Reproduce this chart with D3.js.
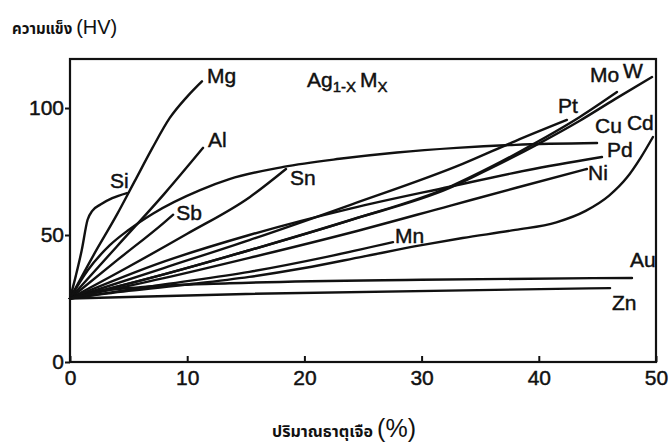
<!DOCTYPE html>
<html>
<head>
<meta charset="utf-8">
<script src="https://cdn.jsdelivr.net/npm/d3@7"></script>
<style>
  html, body { margin: 0; padding: 0; background: #fff; }
  svg { display: block; }
  .lbl { font-family: "Liberation Sans", Arial, sans-serif; font-size: 21px; fill: #111; stroke: #111; stroke-width: 0.45px; }
  .tick text { font-family: "Liberation Sans", Arial, sans-serif; font-size: 21px; fill: #111; stroke: #111; stroke-width: 0.45px; }
  .thai { font-family: "Noto Sans Thai", "Noto Sans", sans-serif; fill: #111; }
</style>
</head>
<body>
<script>
// Hardness (HV) of Ag(1-x)M(x) alloys against solute content (%)
const xTicks = [0, 10, 20, 30, 40, 50];
const yTicks = [0, 50, 100];
const metals = ["Si", "Mg", "Al", "Sb", "Sn", "Mn", "Au", "Zn", "Pt", "Mo", "W", "Cu", "Cd", "Pd", "Ni"];

const ptsSi = [[0,25],[0.5,34],[1.0,44],[1.5,56],[1.9,59.5],[2.6,62],[3.6,64.5],[4.86,66.5]];
const ptsMg = [[0,25],[2,42],[4,58],[5.5,71],[7,84],[8.5,96],[10,104.5],[11.26,110.5]];
const ptsAl = [[0,25],[4,45.5],[8.1,66.5],[11.35,84.3]];
const ptsSb = [[0,25],[4,40],[8,54.8],[8.8,58]];
const ptsSn = [[0,25],[5,37.5],[10,50.5],[15.36,65],[18.43,76]];
const ptsMn = [[0,25],[8,30.5],[15.3,35.5],[22,41.5],[27.56,47.2]];
const ptsAu = [[0,25],[2,27.5],[6,29.5],[13.6,31],[30,32.4],[47.95,33.1]];
const ptsZn = [[0,25],[15,26.8],[46.08,29.1]];
const ptsPt = [[0,25],[8,37],[15.3,48],[24,62],[33.5,78],[38,87],[42.4,95.3]];
const ptsMo = [[0,25],[8,34.5],[15.3,44],[24,56],[32.4,69],[36,77],[40,87],[43.5,96.5],[46.67,106.3]];
const ptsW  = [[0,25],[8,34.5],[15.3,44],[24,56],[32.4,68.5],[36,76.5],[40,86],[43.5,95],[46.5,103.5],[49.66,112.2]];
const ptsCu = [[0,25],[1.5,36],[3.4,46],[5,52],[7.1,58.5],[11.1,67.7],[13.6,72],[18.2,76.8],[23,80],[27.9,82.5],[33,84.3],[38,85.5],[44.97,86.2]];
const ptsCd = [[0,25],[5,28],[10,30.5],[15.3,33.5],[20,37],[25,41.5],[30,46],[33.5,48.8],[38,52],[41.5,55],[44,59.5],[46,65.5],[47.5,72.5],[48.7,80.5],[49.74,88.6]];
const ptsPd = [[0,25],[8,39.5],[15.3,50],[24,60.5],[32.4,69],[39,75.5],[45.39,80.7]];
const ptsNi = [[0,25],[8,33],[15.3,41],[24,51],[32.4,61.5],[38,68.5],[44.11,76]];

const curves = { Si: ptsSi, Mg: ptsMg, Al: ptsAl, Sb: ptsSb, Sn: ptsSn, Mn: ptsMn, Au: ptsAu, Zn: ptsZn,
                 Pt: ptsPt, Mo: ptsMo, W: ptsW, Cu: ptsCu, Cd: ptsCd, Pd: ptsPd, Ni: ptsNi };

// where each metal's name sits relative to the end of its curve (px)
const labelShift = {
  Si: [-17, -5], Mg: [5, 2], Al: [5, -1], Sb: [3, 5], Sn: [4, 16], Mn: [2, 1],
  Au: [-2, -11], Zn: [2, 22], Pt: [-9, -7], Mo: [-27, -10], W: [-29, 1],
  Cu: [-2, -10], Cd: [-26, -7], Pd: [5, 0], Ni: [1, 11]
};

const W = 670, H = 445;
const svg = d3.select("body").append("svg").attr("width", W).attr("height", H);

const x = d3.scaleLinear().domain([0, 50]).range([70, 656]);
const y = d3.scaleLinear().domain([0, 119.3]).range([362, 59]);

// frame
svg.append("rect")
  .attr("x", x(0)).attr("y", y(119.3))
  .attr("width", x(50) - x(0)).attr("height", y(0) - y(119.3))
  .attr("fill", "none").attr("stroke", "#111").attr("stroke-width", 2.2);

// x axis: ticks point into the plot
const gx = svg.append("g").attr("transform", `translate(0,${y(0)})`)
  .call(d3.axisBottom(x).tickValues(xTicks).tickSize(-6).tickPadding(8).tickFormat(d3.format("d")));
gx.select(".domain").remove();
gx.selectAll(".tick line").attr("stroke", "#111").attr("stroke-width", 2);

// y axis: ticks point outward
const gy = svg.append("g").attr("transform", `translate(${x(0)},0)`)
  .call(d3.axisLeft(y).tickValues(yTicks).tickSize(5).tickPadding(1).tickFormat(d3.format("d")));
gy.select(".domain").remove();
gy.selectAll(".tick line").attr("stroke", "#111").attr("stroke-width", 2);

// hardness curves
const line = d3.line().x(d => x(d[0])).y(d => y(d[1])).curve(d3.curveMonotoneX);
svg.append("g").selectAll("path").data(metals).join("path")
  .attr("d", m => line(curves[m]))
  .attr("fill", "none").attr("stroke", "#111").attr("stroke-width", 2.4)
  .attr("stroke-linejoin", "round").attr("stroke-linecap", "round");

// curve names
svg.append("g").selectAll("text").data(metals).join("text")
  .attr("class", "lbl")
  .attr("x", m => x(curves[m][curves[m].length - 1][0]) + labelShift[m][0])
  .attr("y", m => y(curves[m][curves[m].length - 1][1]) + labelShift[m][1])
  .text(m => m);

// alloy formula
const f = svg.append("text").attr("class", "lbl").attr("x", 307).attr("y", 87);
f.append("tspan").text("Ag");
f.append("tspan").attr("font-size", 15).attr("dy", 5).text("1-X");
f.append("tspan").attr("dy", -5).attr("dx", 4).text("M");
f.append("tspan").attr("font-size", 15).attr("dy", 5).text("X");

// axis titles
const t = svg.append("text").attr("class", "thai").attr("x", 12).attr("y", 34);
t.append("tspan").attr("font-size", 15).attr("font-weight", "bold").text("ความแข็ง ");
t.append("tspan").attr("font-size", 20).attr("font-family", "Liberation Sans, Arial, sans-serif").text("(HV)");

const xt = svg.append("text").attr("class", "thai").attr("x", 344).attr("y", 437).attr("text-anchor", "middle");
xt.append("tspan").attr("font-size", 16).attr("font-weight", "bold").text("ปริมาณธาตุเจือ ");
xt.append("tspan").attr("font-size", 25).attr("font-family", "Liberation Sans, Arial, sans-serif").text("(%)");
</script>
</body>
</html>
